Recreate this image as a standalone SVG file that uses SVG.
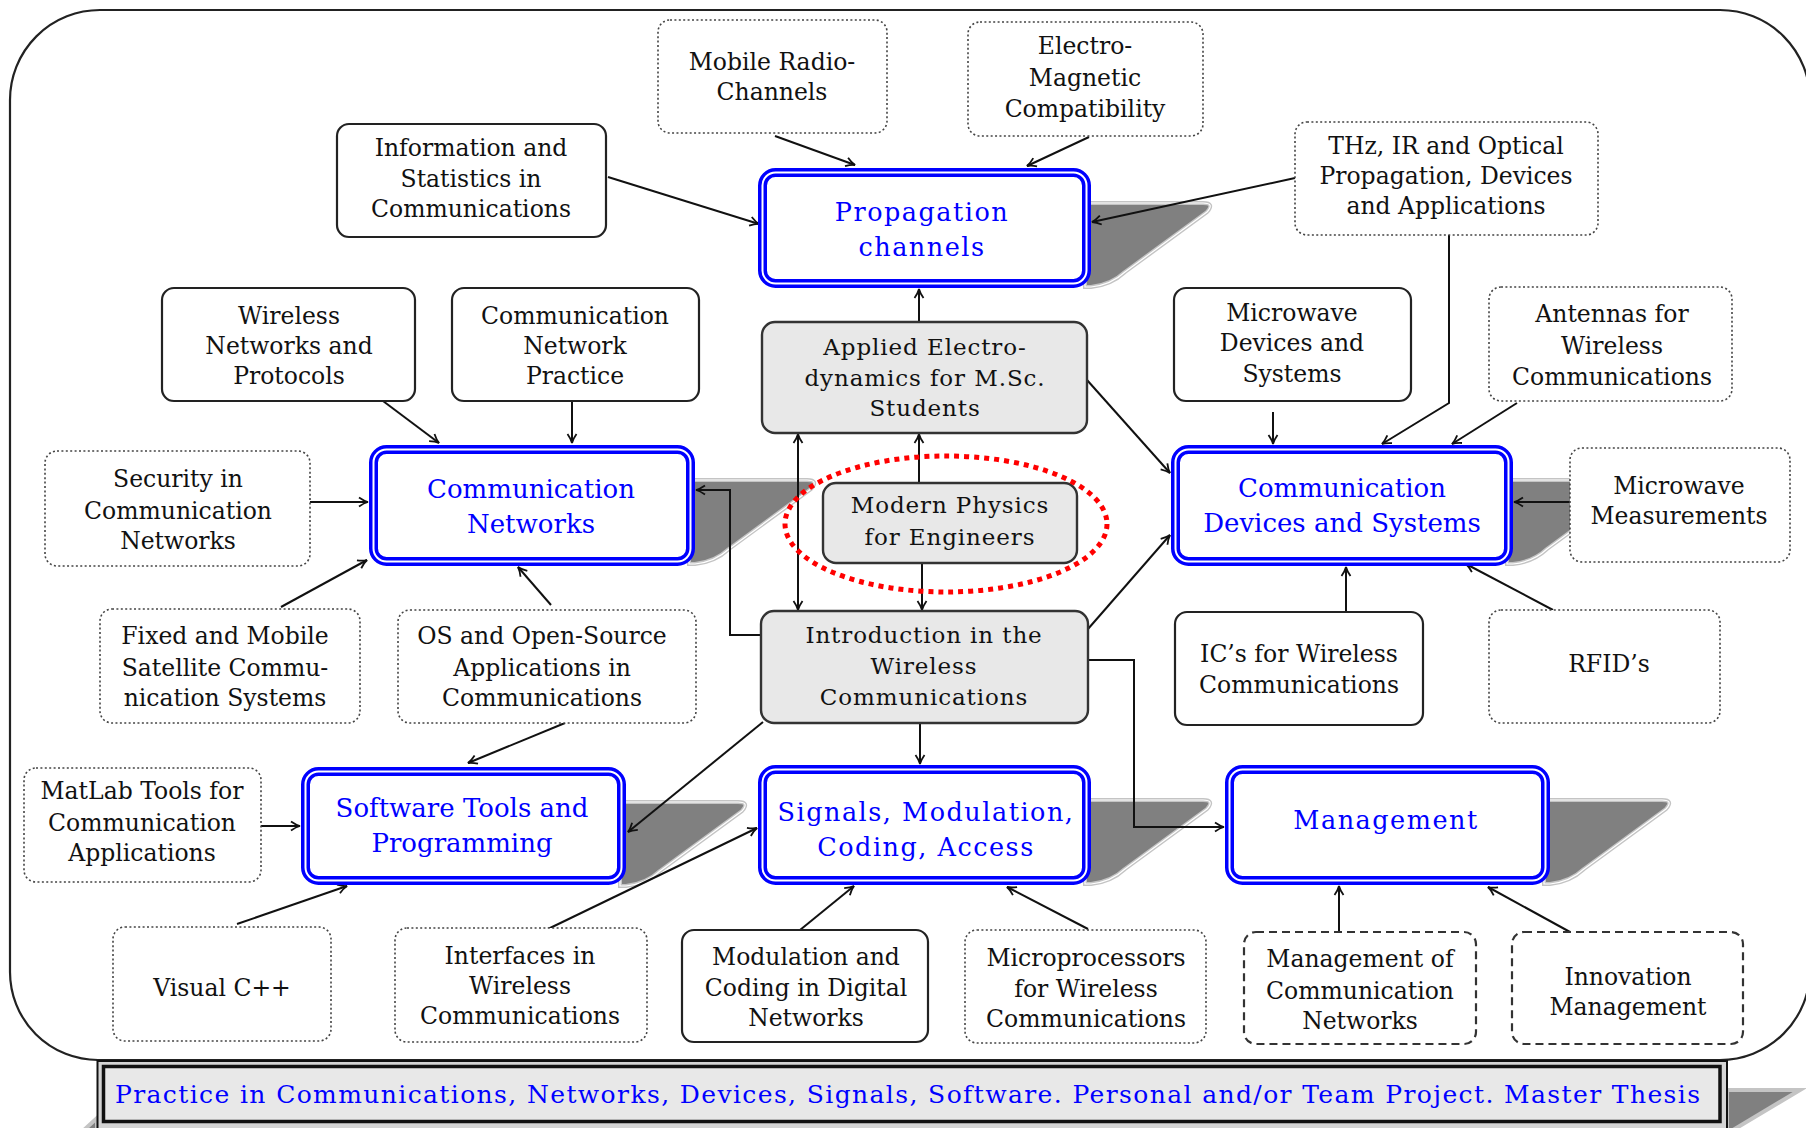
<svg xmlns="http://www.w3.org/2000/svg" width="1806" height="1128" viewBox="0 0 1806 1128">
<style>
.frame{fill:#fff;stroke:#222;stroke-width:2.2}
.solid{fill:#fff;stroke:#222;stroke-width:2.2}
.dot{fill:#fff;stroke:#444;stroke-width:1.6;stroke-dasharray:2 2.4}
.dash{fill:#fff;stroke:#333;stroke-width:2.2;stroke-dasharray:8 5}
.gray{fill:#e8e8e8;stroke:#333;stroke-width:2.4}
.bo{fill:#fff;stroke:#0000ff;stroke-width:9}
.bi{fill:none;stroke:#fff;stroke-width:2}
.t{font-family:"DejaVu Serif","Liberation Serif",serif;font-size:23.5px;fill:#111;text-anchor:middle}
.g{font-family:"DejaVu Serif","Liberation Serif",serif;font-size:23px;letter-spacing:0.9px;fill:#111;text-anchor:middle}
.bn{font-family:"DejaVu Serif","Liberation Serif",serif;font-size:26px;fill:#0000ff;text-anchor:middle}
.bw{font-family:"DejaVu Serif","Liberation Serif",serif;font-size:25.5px;letter-spacing:1.5px;fill:#0000ff;text-anchor:middle}
.c{fill:none;stroke:#111;stroke-width:2;marker-end:url(#ah)}
.sh1{fill:#808080;stroke:#c4c4c4;stroke-width:4}
.sh2{fill:none;stroke:#fff;stroke-width:1.2}
.red{fill:none;stroke:#f00;stroke-width:5;stroke-dasharray:5 5}
.ban-o{fill:#d4d4d4;stroke:#111;stroke-width:2}
.ban-i{fill:#e8e8e8;stroke:#111;stroke-width:3.5}
.bant{font-family:"DejaVu Serif","Liberation Serif",serif;font-size:25px;fill:#0000ff}
</style>
<defs>
<marker id="ah" viewBox="-11 -6 13 12" refX="0" refY="0" markerWidth="13" markerHeight="12" markerUnits="userSpaceOnUse" orient="auto-start-reverse">
<path d="M-9,-4.5 Q-4,-1 0,0 Q-4,1 -9,4.5" fill="none" stroke="#111" stroke-width="1.8"/>
</marker>
<path id="sh" d="M-6,35 L112,35 Q124,35 116,44 L34,104 Q20,117 0,119 L-6,119 Z"/>
</defs>

<path class="frame" d="M10,100 A90,90 0 0 1 100,10 L1720,10 A90,90 0 0 1 1810,100 L1810,970 A90,90 0 0 1 1720,1060 L98,1060 A88,88 0 0 1 10,972 Z"/>

<g id="shadows">
<use href="#sh" class="sh1" x="1091" y="168"/><use href="#sh" class="sh2" x="1091" y="168"/>
<use href="#sh" class="sh1" x="695" y="445"/><use href="#sh" class="sh2" x="695" y="445"/>
<use href="#sh" class="sh1" x="1513" y="445"/><use href="#sh" class="sh2" x="1513" y="445"/>
<use href="#sh" class="sh1" x="626" y="767"/><use href="#sh" class="sh2" x="626" y="767"/>
<use href="#sh" class="sh1" x="1091" y="765"/><use href="#sh" class="sh2" x="1091" y="765"/>
<use href="#sh" class="sh1" x="1550" y="765"/><use href="#sh" class="sh2" x="1550" y="765"/>
<path class="sh1" d="M1727,1090 L1800,1090 L1733,1130 L1727,1130 Z"/>
<path class="sh1" d="M84,1130 L97,1118 L97,1130 Z"/>
</g>

<g id="connectors">
<path class="c" d="M775,136 L855,165"/>
<path class="c" d="M1089,137 L1027,166"/>
<path class="c" d="M608,177 L759,224"/>
<path class="c" d="M1295,178 L1092,222"/>
<path class="c" d="M919,322 L919,289"/>
<path class="c" d="M383,401 L439,443"/>
<path class="c" d="M572,401 L572,443"/>
<path class="c" d="M310,502 L368,502"/>
<path class="c" d="M281,607 L367,560"/>
<path class="c" d="M551,605 L518,567"/>
<path class="c" d="M761,635 L730,635 L730,490 L696,490"/>
<path class="c" d="M798,434 L798,610" style="marker-start:url(#ah)"/>
<path class="c" d="M919,483 L919,434"/>
<path class="c" d="M922,563 L922,610"/>
<path class="c" d="M1087,380 L1170,473"/>
<path class="c" d="M1088,629 L1170,535"/>
<path class="c" d="M1273,412 L1273,444"/>
<path class="c" d="M1449,235 L1449,403 L1382,444"/>
<path class="c" d="M1517,403 L1452,444"/>
<path class="c" d="M1570,502 L1514,502"/>
<path class="c" d="M1346,612 L1346,567"/>
<path class="c" d="M1553,610 L1466,564"/>
<path class="c" d="M565,723 L468,763"/>
<path class="c" d="M261,826 L300,826"/>
<path class="c" d="M763,722 L628,832"/>
<path class="c" d="M237,924 L347,886"/>
<path class="c" d="M920,723 L920,764"/>
<path class="c" d="M548,929 L757,828"/>
<path class="c" d="M800,930 L854,886"/>
<path class="c" d="M1088,929 L1007,887"/>
<path class="c" d="M1088,660 L1134,660 L1134,827 L1224,827"/>
<path class="c" d="M1339,932 L1339,886"/>
<path class="c" d="M1570,932 L1488,887"/>
</g>

<g id="n-mobile"><rect class="dot" x="658" y="20" width="229" height="113" rx="12"/>
<text class="t"><tspan x="772" y="69.5">Mobile Radio-</tspan><tspan x="772" y="99.5">Channels</tspan></text></g>
<g id="n-emc"><rect class="dot" x="968" y="22" width="235" height="114" rx="12"/>
<text class="t"><tspan x="1085" y="53.5">Electro-</tspan><tspan x="1085" y="85.5">Magnetic</tspan><tspan x="1085" y="116.5">Compatibility</tspan></text></g>
<g id="n-info"><rect class="solid" x="337" y="124" width="269" height="113" rx="12"/>
<text class="t"><tspan x="471" y="155.5">Information and</tspan><tspan x="471" y="186.5">Statistics in</tspan><tspan x="471" y="216.5">Communications</tspan></text></g>
<g id="n-thz"><rect class="dot" x="1295" y="122" width="303" height="113" rx="12"/>
<text class="t"><tspan x="1446" y="153.5">THz, IR and Optical</tspan><tspan x="1446" y="183.5">Propagation, Devices</tspan><tspan x="1446" y="213.5">and Applications</tspan></text></g>
<g id="n-wnp"><rect class="solid" x="162" y="288" width="253" height="113" rx="12"/>
<text class="t"><tspan x="289" y="323.5">Wireless</tspan><tspan x="289" y="353.5">Networks and</tspan><tspan x="289" y="383.5">Protocols</tspan></text></g>
<g id="n-cnp"><rect class="solid" x="452" y="288" width="247" height="113" rx="12"/>
<text class="t"><tspan x="575" y="323.5">Communication</tspan><tspan x="575" y="353.5">Network</tspan><tspan x="575" y="383.5">Practice</tspan></text></g>
<g id="n-mwd"><rect class="solid" x="1174" y="288" width="237" height="113" rx="12"/>
<text class="t"><tspan x="1292" y="320.5">Microwave</tspan><tspan x="1292" y="350.5">Devices and</tspan><tspan x="1292" y="381.5">Systems</tspan></text></g>
<g id="n-ant"><rect class="dot" x="1489" y="287" width="243" height="114" rx="12"/>
<text class="t"><tspan x="1612" y="321.5">Antennas for</tspan><tspan x="1612" y="353.5">Wireless</tspan><tspan x="1612" y="384.5">Communications</tspan></text></g>
<g id="n-sec"><rect class="dot" x="45" y="451" width="265" height="115" rx="12"/>
<text class="t"><tspan x="178" y="486.5">Security in</tspan><tspan x="178" y="518.5">Communication</tspan><tspan x="178" y="548.5">Networks</tspan></text></g>
<g id="n-mwm"><rect class="dot" x="1570" y="448" width="220" height="114" rx="12"/>
<text class="t"><tspan x="1679" y="493.5">Microwave</tspan><tspan x="1679" y="523.5">Measurements</tspan></text></g>
<g id="n-sat"><rect class="dot" x="100" y="609" width="260" height="114" rx="12"/>
<text class="t"><tspan x="225" y="643.5">Fixed and Mobile</tspan><tspan x="225" y="675.5">Satellite Commu-</tspan><tspan x="225" y="705.5">nication Systems</tspan></text></g>
<g id="n-os"><rect class="dot" x="398" y="610" width="298" height="113" rx="12"/>
<text class="t"><tspan x="542" y="643.5">OS and Open-Source</tspan><tspan x="542" y="675.5">Applications in</tspan><tspan x="542" y="705.5">Communications</tspan></text></g>
<g id="n-ics"><rect class="solid" x="1175" y="612" width="248" height="113" rx="12"/>
<text class="t"><tspan x="1299" y="661.5">IC’s for Wireless</tspan><tspan x="1299" y="692.5">Communications</tspan></text></g>
<g id="n-rfid"><rect class="dot" x="1489" y="610" width="231" height="113" rx="12"/>
<text class="t"><tspan x="1609" y="671.5">RFID’s</tspan></text></g>
<g id="n-matlab"><rect class="dot" x="24" y="768" width="237" height="114" rx="12"/>
<text class="t"><tspan x="142" y="798.5">MatLab Tools for</tspan><tspan x="142" y="830.5">Communication</tspan><tspan x="142" y="860.5">Applications</tspan></text></g>
<g id="n-vcpp"><rect class="dot" x="113" y="927" width="218" height="114" rx="12"/>
<text class="t"><tspan x="222" y="995.5">Visual C++</tspan></text></g>
<g id="n-iface"><rect class="dot" x="395" y="928" width="252" height="114" rx="12"/>
<text class="t"><tspan x="520" y="963.5">Interfaces in</tspan><tspan x="520" y="993.5">Wireless</tspan><tspan x="520" y="1023.5">Communications</tspan></text></g>
<g id="n-modcod"><rect class="solid" x="682" y="930" width="246" height="112" rx="12"/>
<text class="t"><tspan x="806" y="964.5">Modulation and</tspan><tspan x="806" y="995.5">Coding in Digital</tspan><tspan x="806" y="1025.5">Networks</tspan></text></g>
<g id="n-micro"><rect class="dot" x="965" y="930" width="241" height="113" rx="12"/>
<text class="t"><tspan x="1086" y="965.5">Microprocessors</tspan><tspan x="1086" y="996.5">for Wireless</tspan><tspan x="1086" y="1026.5">Communications</tspan></text></g>
<g id="n-mgmtcn"><rect class="dash" x="1244" y="932" width="232" height="112" rx="12"/>
<text class="t"><tspan x="1360" y="966.5">Management of</tspan><tspan x="1360" y="998.5">Communication</tspan><tspan x="1360" y="1028.5">Networks</tspan></text></g>
<g id="n-innov"><rect class="dash" x="1512" y="932" width="231" height="112" rx="12"/>
<text class="t"><tspan x="1628" y="984.5">Innovation</tspan><tspan x="1628" y="1014.5">Management</tspan></text></g>

<g id="n-applied"><rect class="gray" x="762" y="322" width="325" height="111" rx="13"/>
<text class="g"><tspan x="925" y="355.3">Applied Electro-</tspan><tspan x="925" y="386.3">dynamics for M.Sc.</tspan><tspan x="925" y="416.3">Students</tspan></text></g>
<g id="n-modern"><rect class="gray" x="823" y="483" width="254" height="80" rx="13"/>
<text class="g"><tspan x="950" y="513.3">Modern Physics</tspan><tspan x="950" y="545.3">for Engineers</tspan></text></g>
<g id="n-intro"><rect class="gray" x="761" y="611" width="327" height="112" rx="13"/>
<text class="g"><tspan x="924" y="643.3">Introduction in the</tspan><tspan x="924" y="674.3">Wireless</tspan><tspan x="924" y="705.3">Communications</tspan></text></g>

<g id="n-prop"><rect class="bo" x="762.5" y="172.5" width="324" height="111" rx="13"/><rect class="bi" x="762.5" y="172.5" width="324" height="111" rx="13"/>
<text class="bw"><tspan x="922" y="221">Propagation</tspan><tspan x="922" y="256">channels</tspan></text></g>
<g id="n-commnet"><rect class="bo" x="373.5" y="449.5" width="317" height="112" rx="13"/><rect class="bi" x="373.5" y="449.5" width="317" height="112" rx="13"/>
<text class="bn"><tspan x="531" y="497.5">Communication</tspan><tspan x="531" y="532.5">Networks</tspan></text></g>
<g id="n-commdev"><rect class="bo" x="1175.5" y="449.5" width="333" height="112" rx="13"/><rect class="bi" x="1175.5" y="449.5" width="333" height="112" rx="13"/>
<text class="bn"><tspan x="1342" y="496.5">Communication</tspan><tspan x="1342" y="531.5">Devices and Systems</tspan></text></g>
<g id="n-software"><rect class="bo" x="305.5" y="771.5" width="316" height="109" rx="13"/><rect class="bi" x="305.5" y="771.5" width="316" height="109" rx="13"/>
<text class="bn"><tspan x="462" y="816.5">Software Tools and</tspan><tspan x="462" y="851.5">Programming</tspan></text></g>
<g id="n-signals"><rect class="bo" x="762.5" y="769.5" width="324" height="111" rx="13"/><rect class="bi" x="762.5" y="769.5" width="324" height="111" rx="13"/>
<text class="bw"><tspan x="926" y="821">Signals, Modulation,</tspan><tspan x="926" y="856">Coding, Access</tspan></text></g>
<g id="n-mgmt"><rect class="bo" x="1229.5" y="769.5" width="316" height="111" rx="13"/><rect class="bi" x="1229.5" y="769.5" width="316" height="111" rx="13"/>
<text class="bw"><tspan x="1386" y="829">Management</tspan></text></g>

<ellipse id="highlight" class="red" cx="946" cy="524" rx="161" ry="68"/>

<g id="n-banner">
<rect class="ban-o" x="97.5" y="1061" width="1629.5" height="72"/>
<rect class="ban-i" x="103.5" y="1066.5" width="1616.5" height="55"/>
<text class="bant" x="115" y="1102.5" textLength="1585" lengthAdjust="spacing">Practice in Communications, Networks, Devices, Signals, Software. Personal and/or Team Project. Master Thesis</text>
</g>
</svg>
